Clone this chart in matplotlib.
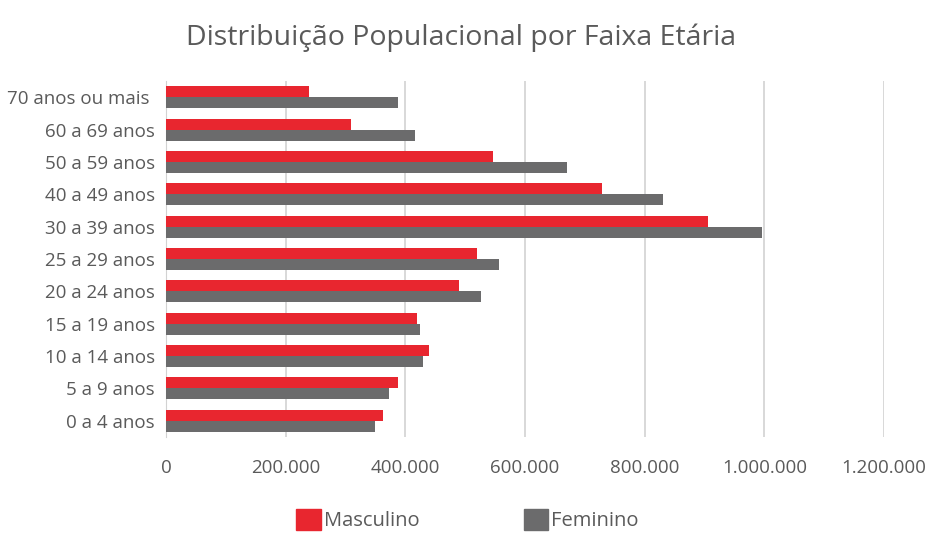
import matplotlib

matplotlib.use("Agg")

import matplotlib.pyplot as plt
import numpy as np
from matplotlib.patches import Patch

plt.rcParams["font.family"] = ["Open Sans", "DejaVu Sans"]

categories = [
    "0 a 4 anos",
    "5 a 9 anos",
    "10 a 14 anos",
    "15 a 19 anos",
    "20 a 24 anos",
    "25 a 29 anos",
    "30 a 39 anos",
    "40 a 49 anos",
    "50 a 59 anos",
    "60 a 69 anos",
    "70 anos ou mais ",
]
masculino = [363000, 388000, 439000, 420000, 490000, 519000, 906000, 728000, 546000, 310000, 239000]
feminino = [350000, 372000, 430000, 425000, 527000, 556000, 996000, 830000, 671000, 417000, 387000]
xticks = [0, 200000, 400000, 600000, 800000, 1000000, 1200000]
xtick_labels = ["0", "200.000", "400.000", "600.000", "800.000", "1.000.000", "1.200.000"]

RED = "#e8262f"
GRAY = "#6b6b6c"
TEXT = "#5a5a5a"

fig = plt.figure(figsize=(9.35, 5.36), dpi=100)
ax = fig.add_axes([0.1775, 1 - 437 / 536, 0.9455 - 0.1775, (437 - 81) / 536])

y = np.arange(len(categories))
h = 0.34
ax.barh(y + h / 2, masculino, height=h, color=RED, zorder=3)
ax.barh(y - h / 2, feminino, height=h, color=GRAY, zorder=3)

ax.set_xlim(0, 1200000)
ax.set_ylim(-0.5, len(categories) - 0.5)
ax.set_yticks(y)
ax.set_yticklabels(categories)
ax.set_xticks(xticks)
ax.set_xticklabels(xtick_labels)
ax.tick_params(axis="both", length=0, colors=TEXT, labelsize=13.5)
ax.tick_params(axis="x", pad=16)
ax.tick_params(axis="y", pad=8)
ax.grid(axis="x", color="#d2d2d2", linewidth=1.2, zorder=0)

for side in ["top", "right", "bottom"]:
    ax.spines[side].set_visible(False)
ax.spines["left"].set_color("#d2d2d2")

fig.text(0.493, 1 - 38 / 536, "Distribuição Populacional por Faixa Etária",
         ha="center", va="center", fontsize=20.5, color=TEXT)

handles = [Patch(color=RED, label="Masculino"), Patch(color=GRAY, label="Feminino")]
fig.legend(handles=handles, loc="center", bbox_to_anchor=(0.5, 0.03), ncol=2,
           frameon=False, fontsize=14.5, labelcolor=TEXT, handlelength=1.2,
           handleheight=1.2, handletextpad=0.15, columnspacing=5.2,
           borderpad=0.1)

fig.savefig("out.png", dpi=100)
